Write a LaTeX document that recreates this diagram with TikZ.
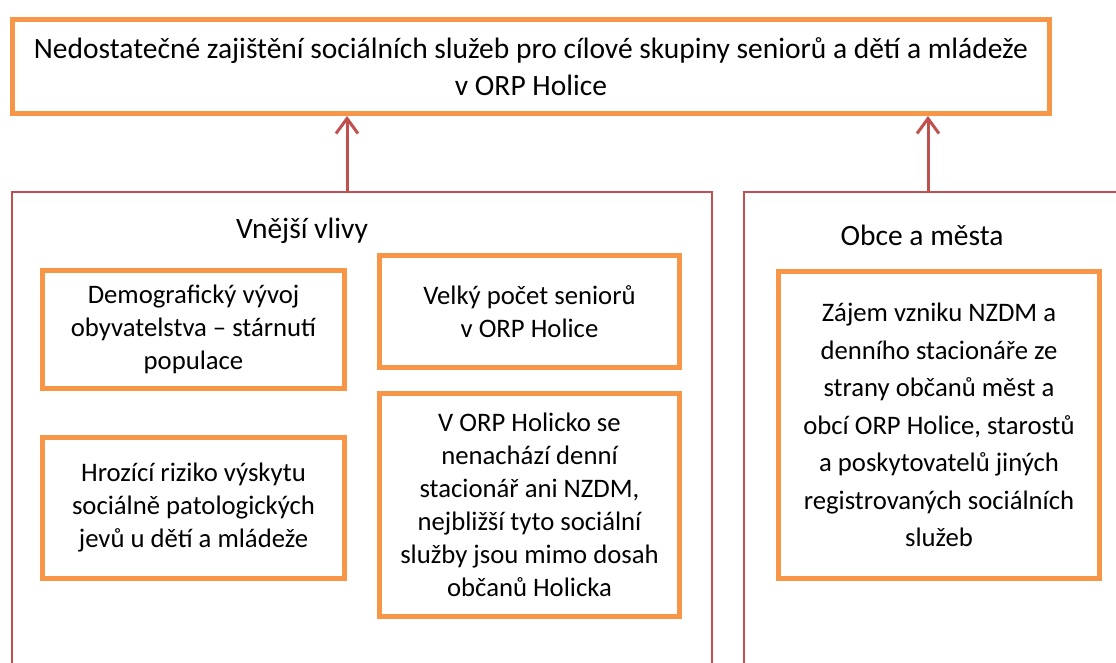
\documentclass[tikz,border=0pt]{standalone}
\usepackage{fontspec}
\setmainfont{Carlito}
\usepackage{tikz}
\usetikzlibrary{arrows.meta}
\definecolor{causeorange}{HTML}{F79646}
\definecolor{groupred}{HTML}{C0504D}

\begin{document}
\begin{tikzpicture}[x=1pt, y=1pt,
    cause/.style={draw=causeorange, line width=5pt, align=center, inner sep=0pt,
      font=\fontsize{26.7}{33}\selectfont},
    group/.style={draw=groupred, line width=2.5pt, inner sep=0pt},
    grouptitle/.style={font=\fontsize{29.5}{34}\selectfont},
    up/.style={draw=groupred, line width=3pt, -{Straight Barb[length=15pt, width=22pt]}}]
  \useasboundingbox (0,0) rectangle (1116,-662);
  \clip (0,0) rectangle (1116,-662);
  % Nodes
  \node[cause, minimum width=1037, minimum height=94, font=\fontsize{29.5}{37}\selectfont] (cil) at (531,-66.5)
    {Nedostatečné zajištění sociálních služeb pro cílové skupiny seniorů a dětí a mládeže\\v ORP Holice};
  \node[group, minimum width=700, minimum height=520] (vnejsi) at (362,-452) {};
  \node[group, minimum width=416, minimum height=520] (obce) at (952,-452) {};
  \node[grouptitle] (vnejsititle) at (302,-231) {Vnější vlivy};
  \node[grouptitle] (obcetitle) at (922,-235) {Obce a města};
  \node[cause, minimum width=302, minimum height=118] (demo) at (193.5,-329.5)
    {Demografický vývoj\\obyvatelstva -- stárnutí\\populace};
  \node[cause, minimum width=302, minimum height=141] (riziko) at (193.5,-508)
    {Hrozící riziko výskytu\\sociálně patologických\\jevů u dětí a mládeže};
  \node[cause, minimum width=300, minimum height=112] (seniori) at (529.5,-311.5)
    {Velký počet seniorů\\v ORP Holice};
  \node[cause, minimum width=300, minimum height=223] (dosah) at (529.5,-505)
    {V ORP Holicko se\\nenachází denní\\stacionář ani NZDM,\\nejbližší tyto sociální\\služby jsou mimo dosah\\občanů Holicka};
  \node[cause, minimum width=321, minimum height=307, font=\fontsize{26.7}{37.5}\selectfont] (zajem) at (939,-425)
    {Zájem vzniku NZDM a\\denního stacionáře ze\\strany občanů měst a\\obcí ORP Holice, starostů\\a poskytovatelů jiných\\registrovaných sociálních\\služeb};
  % Edges
  \coordinate (leftx) at (347,0);
  \coordinate (rightx) at (928,0);
  \draw[up] (vnejsi.north -| leftx) -- (cil.south -| leftx);
  \draw[up] (obce.north -| rightx) -- (cil.south -| rightx);
\end{tikzpicture}
\end{document}
